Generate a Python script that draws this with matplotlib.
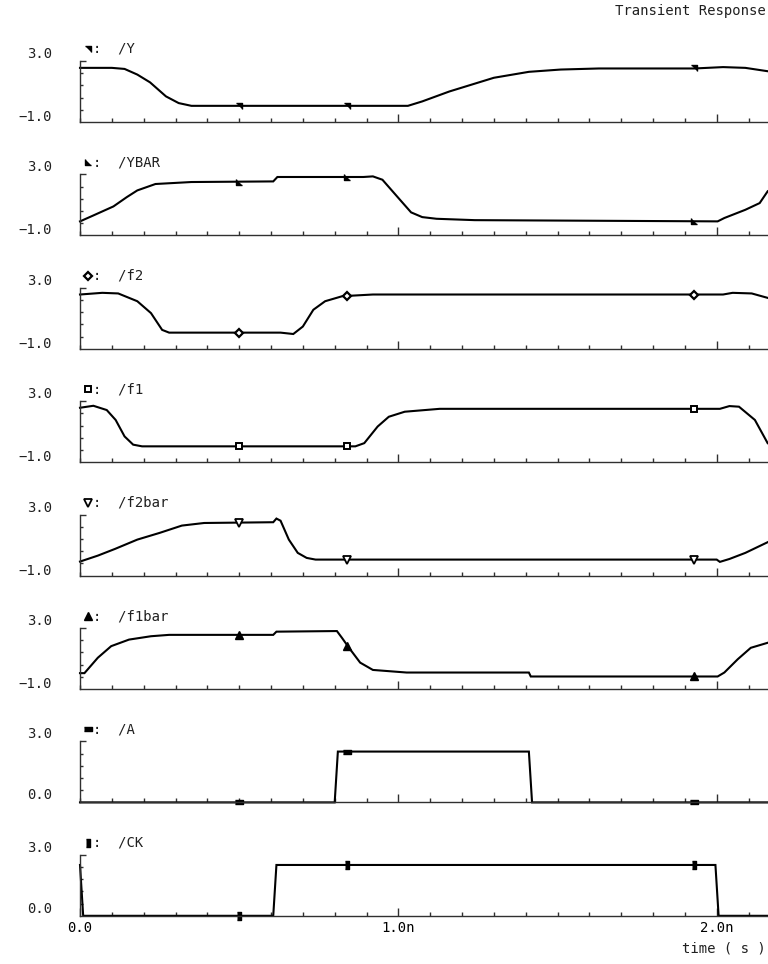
import numpy as np
import matplotlib
matplotlib.use("Agg")
import matplotlib.pyplot as plt
import matplotlib.transforms as mtransforms
from matplotlib.ticker import MultipleLocator, FixedLocator

plt.rcParams['font.family'] = ['DejaVu Sans Mono', 'DejaVu Sans']

# time in ns, voltages in V
y_t = [0, 0.10, 0.14, 0.18, 0.22, 0.27, 0.31, 0.35, 1.03, 1.075, 1.16, 1.30, 1.41, 1.51, 1.63, 1.93, 2.02, 2.09, 2.16]
y_v = [2.55, 2.55, 2.48, 2.11, 1.60, 0.68, 0.24, 0.06, 0.06, 0.35, 1.00, 1.90, 2.29, 2.44, 2.51, 2.51, 2.60, 2.55, 2.33]

ybar_t = [0, 0.04, 0.105, 0.147, 0.18, 0.237, 0.35, 0.607, 0.62, 0.89, 0.92, 0.95, 1.005, 1.04, 1.075, 1.12, 1.24,
          2.003, 2.024, 2.09, 2.135, 2.16]
ybar_v = [-0.08, 0.29, 0.90, 1.51, 1.95, 2.37, 2.50, 2.54, 2.83, 2.83, 2.87, 2.65, 1.34, 0.51, 0.20, 0.09, 0.0,
          -0.08, 0.14, 0.68, 1.12, 1.89]

f2_t = [0, 0.07, 0.12, 0.18, 0.223, 0.258, 0.28, 0.63, 0.67, 0.70, 0.733, 0.77, 0.824, 0.92, 2.02, 2.05, 2.11, 2.16]
f2_v = [2.56, 2.67, 2.63, 2.12, 1.34, 0.24, 0.06, 0.06, -0.03, 0.46, 1.56, 2.12, 2.45, 2.56, 2.56, 2.67, 2.63, 2.34]

f1_t = [0, 0.042, 0.084, 0.112, 0.14, 0.167, 0.195, 0.865, 0.893, 0.935, 0.97, 1.02, 1.13, 2.01, 2.04, 2.07, 2.12, 2.16]
f1_v = [2.57, 2.70, 2.42, 1.77, 0.69, 0.15, 0.04, 0.04, 0.25, 1.34, 1.98, 2.31, 2.50, 2.50, 2.68, 2.64, 1.77, 0.25]

f2bar_t = [0, 0.056, 0.11, 0.18, 0.25, 0.32, 0.39, 0.607, 0.617, 0.63, 0.656, 0.684, 0.712, 0.74,
           2.0, 2.01, 2.04, 2.09, 2.16]
f2bar_v = [-0.08, 0.31, 0.75, 1.36, 1.80, 2.28, 2.45, 2.50, 2.74, 2.60, 1.36, 0.49, 0.16, 0.05,
           0.05, -0.10, 0.09, 0.49, 1.19]

f1bar_t = [0, 0.014, 0.056, 0.098, 0.154, 0.223, 0.28, 0.607, 0.617, 0.807, 0.823, 0.845, 0.88, 0.92, 1.026,
           1.41, 1.416, 2.003, 2.024, 2.066, 2.107, 2.16]
f1bar_v = [0.04, 0.04, 1.05, 1.81, 2.24, 2.46, 2.55, 2.55, 2.76, 2.80, 2.35, 1.70, 0.73, 0.25, 0.08,
           0.08, -0.18, -0.18, 0.08, 0.95, 1.70, 2.03]

a_t = [0, 0.80, 0.81, 1.41, 1.42, 2.16]
a_v = [0, 0, 2.5, 2.5, 0, 0]

ck_t = [0, 0.01, 0.607, 0.617, 1.996, 2.006, 2.16]
ck_v = [2.5, 0, 0, 2.5, 2.5, 0, 0]

marker_t = [0.50, 0.84, 1.93]

tri_y = [(-1, 1), (1, 1), (1, -1)]
tri_ybar = [(-1, 1), (-1, -1), (1, -1)]
bar_h = [(-1, -0.45), (1, -0.45), (1, 0.45), (-1, 0.45)]
bar_v = [(-0.45, -1), (0.45, -1), (0.45, 1), (-0.45, 1)]

signals = [
    ("/Y", y_t, y_v, dict(marker=tri_y, ms=5, mfc='k')),
    ("/YBAR", ybar_t, ybar_v, dict(marker=tri_ybar, ms=5, mfc='k')),
    ("/f2", f2_t, f2_v, dict(marker='D', ms=4.5, mfc='white', mew=1.6)),
    ("/f1", f1_t, f1_v, dict(marker='s', ms=4.5, mfc='white', mew=1.4)),
    ("/f2bar", f2bar_t, f2bar_v, dict(marker='v', ms=6, mfc='white', mew=1.3)),
    ("/f1bar", f1bar_t, f1bar_v, dict(marker='^', ms=6, mfc='k')),
    ("/A", a_t, a_v, dict(marker=bar_h, ms=6, mfc='k')),
    ("/CK", ck_t, ck_v, dict(marker=bar_v, ms=6, mfc='k')),
]

W, H = 768, 964
fig = plt.figure(figsize=(W / 100, H / 100), dpi=100)

x0, x_right = 80, 768
px_per_ns = 318.35
t_max = (x_right - x0) / px_per_ns
pitch, ph, top0 = 113.4, 61, 61

for i, (name, t, v, mk) in enumerate(signals):
    top = top0 + i * pitch
    ax = fig.add_axes([x0 / W, 1 - (top + ph) / H, (x_right - x0) / W, ph / H])
    digital = name in ("/A", "/CK")
    lo = 0.0 if digital else -1.0
    ax.set_ylim(lo, 3.0)
    ax.set_xlim(0, t_max)

    ax.plot(t, v, color='k', lw=1.5, solid_joinstyle='miter', clip_on=False)
    my = np.interp(marker_t, t, v)
    ax.plot(marker_t, my, ls='none', mec='k', color='k', clip_on=False, **mk)

    for s in ('top', 'right'):
        ax.spines[s].set_visible(False)
    for s in ('left', 'bottom'):
        ax.spines[s].set_color('#303030')
        ax.spines[s].set_linewidth(1.0)

    ax.xaxis.set_major_locator(FixedLocator([1.0, 2.0]))
    ax.xaxis.set_minor_locator(MultipleLocator(0.1))
    ax.tick_params(axis='x', which='major', direction='in', length=5.5, width=1, color='#303030')
    ax.tick_params(axis='x', which='minor', direction='in', length=3, width=1, color='#303030')
    if digital:
        yt = [0.6, 1.2, 1.8, 2.4]
    else:
        yt = [-0.2, 0.6, 1.4, 2.2]
    ax.yaxis.set_major_locator(FixedLocator([3.0]))
    ax.yaxis.set_minor_locator(FixedLocator(yt))
    ax.tick_params(axis='y', which='major', direction='in', length=4.5, width=1, color='#303030')
    ax.tick_params(axis='y', which='minor', direction='in', length=2.5, width=1, color='#303030')
    ax.set_yticklabels([])

    if i == len(signals) - 1:
        ax.xaxis.set_major_locator(FixedLocator([0.0, 1.0, 2.0]))
        ax.set_xticklabels(["0.0", "1.0n", "2.0n"], fontsize=10)
        ax.tick_params(axis='x', which='major', pad=4)
    else:
        ax.set_xticklabels([])

    # value labels at the top and bottom of each strip
    tr_top = mtransforms.offset_copy(ax.transAxes, fig=fig, x=-28, y=7, units='dots')
    tr_bot = mtransforms.offset_copy(ax.transAxes, fig=fig, x=-28, y=5 if not digital else 7, units='dots')
    ax.text(0, 1, "3.0", transform=tr_top, ha='right', va='center', fontsize=10, color='#202020')
    ax.text(0, 0, "0.0" if digital else "\u22121.0", transform=tr_bot, ha='right', va='center',
            fontsize=10, color='#202020')

    # trace legend above each strip
    tr_mk = mtransforms.offset_copy(ax.transAxes, fig=fig, x=8, y=12, units='dots')
    leg_mk = dict(mk)
    leg_mk['ms'] = mk['ms'] * 0.85
    ax.plot([0], [1], ls='none', mec='k', color='k', transform=tr_mk, clip_on=False, **leg_mk)
    tr_tx = mtransforms.offset_copy(ax.transAxes, fig=fig, x=13, y=12, units='dots')
    ax.text(0, 1, ":  " + name, transform=tr_tx, ha='left', va='center', fontsize=10, color='#202020')

fig.text(766 / W, 1 - 948 / H, "time ( s )", ha='right', va='center', fontsize=10, color='#202020')
fig.text(766 / W, 1 - 15 / H, "Transient Response", ha='right', va='baseline', fontsize=10, color='#202020')

fig.savefig("out.png", dpi=100)
